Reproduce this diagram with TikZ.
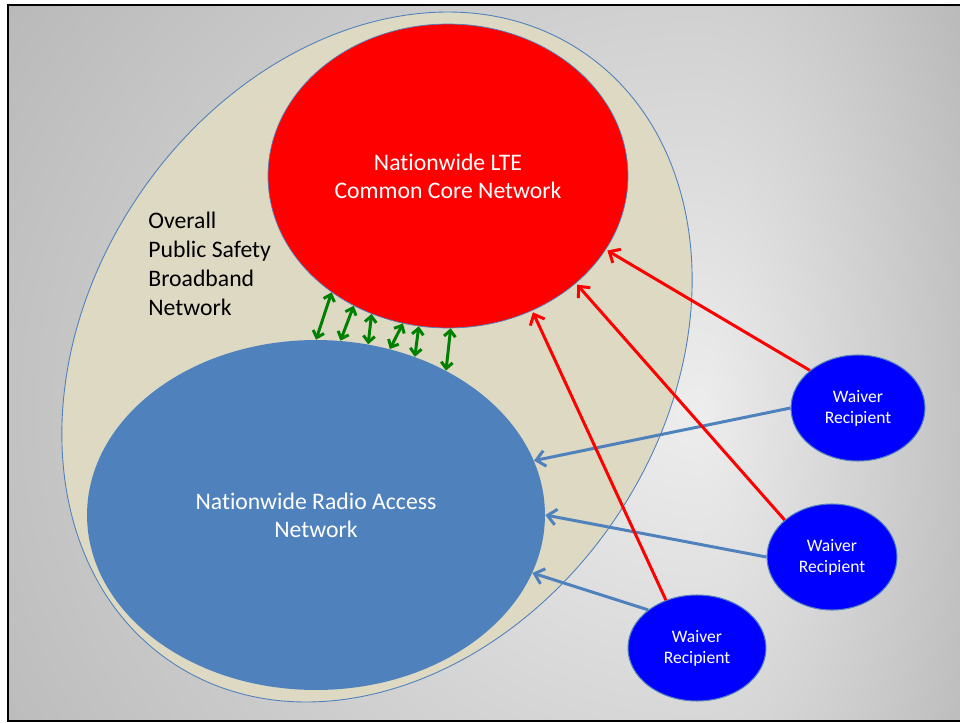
\documentclass[tikz,border=0pt]{standalone}
\usepackage{fontspec}
\setmainfont{Carlito}[Ligatures = NoCommon]
\usetikzlibrary{arrows.meta,shapes.geometric}

\definecolor{psbtan}{HTML}{DDD9C3}
\definecolor{ranblue}{HTML}{4F81BD}
\definecolor{linkgreen}{HTML}{008000}

\pgfdeclareradialshading{slideglow}{\pgfpoint{0bp}{0bp}}{color(0bp)=(black!7); color(25bp)=(black!39); color(50bp)=(black!62)}

\begin{document}
\begin{tikzpicture}[x = 0.02cm,
	y = -0.02cm,
	net/.style = {ellipse, inner sep = 0pt, align = center, font = {\fontsize{13.5}{16}\selectfont}},
	waiver/.style = {ellipse, inner sep = 0pt, align = center, fill = blue, draw = ranblue, line width = 0.6pt, text = white, minimum height = 2.12cm, font = {\fontsize{10}{12}\selectfont}},
	feed/.style = {line width = 1.7pt, -{Straight Barb[length = 5pt, width = 9pt]}},
	link/.style = {line width = 1.7pt, draw = linkgreen, {Straight Barb[length = 3.5pt, width = 6.5pt]}-{Straight Barb[length = 3.5pt, width = 6.5pt]}}]
	\useasboundingbox (0,0) rectangle (960,723);
	
	\begin{scope}
		\clip (8,5) rectangle (701,721);
		\shade[shading = slideglow] (700,410) ellipse [x radius = 26cm, y radius = 23cm];
	\end{scope}
	\begin{scope}
		\clip (699,5) rectangle (962,721);
		\shade[shading = slideglow] (700,410) ellipse [x radius = 10cm, y radius = 23cm];
	\end{scope}
	\draw[line width = 1.4pt] (8,5) rectangle (964,721);
	
	\filldraw[fill = psbtan, draw = ranblue, line width = 0.5pt, rotate around = {56:(377,357)}] (377,357) ellipse [x radius = 7.36cm, y radius = 5.76cm];
	\node[anchor = west, align = left, inner sep = 0pt, font = {\fontsize{13.5}{16.4}\selectfont}] (psbn) at (148,264) {Overall\\Public Safety\\Broadband\\Network};
	
	\node[net, fill = red, draw = ranblue, line width = 0.4pt, text = white, minimum width = 7.2cm, minimum height = 6.08cm] (core) at (448,176) {Nationwide LTE\\Common Core Network};
	\node[net, fill = ranblue, text = white, minimum width = 9.16cm, minimum height = 7cm] (ran) at (316,515) {Nationwide Radio Access\\Network};
	
	\node[waiver, minimum width = 2.68cm] (w1) at (858,408) {Waiver\\Recipient};
	\node[waiver, minimum width = 2.6cm] (w2) at (832,557) {Waiver\\Recipient};
	\node[waiver, minimum width = 2.76cm] (w3) at (697,648) {Waiver\\Recipient};
	
	\foreach \a/\b in {90/225, 82/234, 73/241, 66/253, 58/259, 48/271}
		\draw[link] (ran.\a) -- (core.\b);
	
	\draw[feed, ranblue] (w1.180) -- (ran.14);
	\draw[feed, ranblue] (w2.180) -- (ran.0);
	\draw[feed, ranblue] (w3.142) -- (ran.-15);
	
	\draw[feed, red, shorten > = 1pt] (w1.142) -- (core.-25);
	\draw[feed, red, shorten > = 1pt] (w2.142) -- (core.-40);
	\draw[feed, red, shorten > = 1pt] (w3.123) -- (core.-58);
\end{tikzpicture}
\end{document}
